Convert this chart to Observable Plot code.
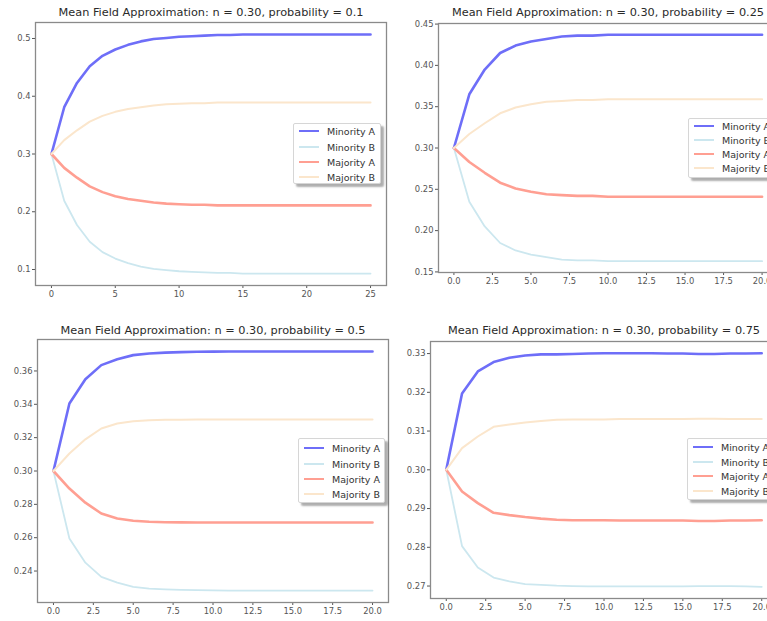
<!DOCTYPE html>
<html><head><meta charset="utf-8">
<script src="https://cdn.jsdelivr.net/npm/d3@7"></script>
<script src="https://cdn.jsdelivr.net/npm/@observablehq/plot@0.6"></script>
<style>
body{margin:0;background:#fff;}
#root{position:relative;width:767px;height:621px;overflow:hidden;font-family:"DejaVu Sans",sans-serif;background:#fff;}
.panel{position:absolute;}
.panel svg{max-width:none !important;}
.legend{position:absolute;background:#fff;border:1px solid #d6d6d6;border-radius:2px;box-shadow:3px 3px 2px rgba(0,0,0,0.32);font-size:9.5px;color:#333;white-space:nowrap;box-sizing:border-box;}
.legend .row{position:absolute;left:0;display:flex;align-items:center;}
.legend .sw{display:inline-block;width:20px;margin-left:5px;margin-right:8px;}
</style>
</head><body>
<div id="root"></div>
<script>
// ---- data ----
const seriesNames = ["Minority A", "Minority B", "Majority A", "Majority B"];
const seriesColors = ["#6e6ef8", "#cce7ef", "#ff9f92", "#fbe6cc"];
const seriesWidths = [2.6, 1.8, 2.6, 2.0];

const titles = [
  "Mean Field Approximation: n = 0.30, probability = 0.1",
  "Mean Field Approximation: n = 0.30, probability = 0.25",
  "Mean Field Approximation: n = 0.30, probability = 0.5",
  "Mean Field Approximation: n = 0.30, probability = 0.75"
];

const steps25 = [0,1,2,3,4,5,6,7,8,9,10,11,12,13,14,15,16,17,18,19,20,21,22,23,24,25];
const steps20 = [0,1,2,3,4,5,6,7,8,9,10,11,12,13,14,15,16,17,18,19,20];

const xTicks25 = [0,5,10,15,20,25];
const xTicks20 = [0,2.5,5,7.5,10,12.5,15,17.5,20];
const yTicks1 = [0.1,0.2,0.3,0.4,0.5];
const yTicks2 = [0.15,0.20,0.25,0.30,0.35,0.40,0.45];
const yTicks3 = [0.24,0.26,0.28,0.30,0.32,0.34,0.36];
const yTicks4 = [0.27,0.28,0.29,0.30,0.31,0.32,0.33];

// p = 0.1
const minA1 = [0.300,0.381,0.423,0.452,0.470,0.481,0.489,0.495,0.499,0.501,0.503,0.504,0.505,0.506,0.506,0.507,0.507,0.507,0.507,0.507,0.507,0.507,0.507,0.507,0.507,0.507];
const minB1 = [0.300,0.219,0.177,0.148,0.130,0.119,0.111,0.105,0.101,0.099,0.097,0.096,0.095,0.094,0.094,0.093,0.093,0.093,0.093,0.093,0.093,0.093,0.093,0.093,0.093,0.093];
const majA1 = [0.300,0.276,0.259,0.244,0.234,0.227,0.222,0.219,0.216,0.214,0.213,0.212,0.212,0.211,0.211,0.211,0.211,0.211,0.211,0.211,0.211,0.211,0.211,0.211,0.211,0.211];
const majB1 = [0.300,0.324,0.341,0.356,0.366,0.373,0.378,0.381,0.384,0.386,0.387,0.388,0.388,0.389,0.389,0.389,0.389,0.389,0.389,0.389,0.389,0.389,0.389,0.389,0.389,0.389];

// p = 0.25
const minA2 = [0.300,0.365,0.395,0.415,0.424,0.429,0.432,0.435,0.436,0.436,0.437,0.437,0.437,0.437,0.437,0.437,0.437,0.437,0.437,0.437,0.437];
const minB2 = [0.300,0.235,0.205,0.185,0.176,0.171,0.168,0.165,0.164,0.164,0.163,0.163,0.163,0.163,0.163,0.163,0.163,0.163,0.163,0.163,0.163];
const majA2 = [0.300,0.283,0.270,0.258,0.251,0.247,0.244,0.243,0.242,0.242,0.241,0.241,0.241,0.241,0.241,0.241,0.241,0.241,0.241,0.241,0.241];
const majB2 = [0.300,0.317,0.330,0.342,0.349,0.353,0.356,0.357,0.358,0.358,0.359,0.359,0.359,0.359,0.359,0.359,0.359,0.359,0.359,0.359,0.359];

// p = 0.5
const minA3 = [0.300,0.3405,0.3550,0.3635,0.3670,0.3695,0.3705,0.3710,0.3713,0.3715,0.3716,0.3717,0.3717,0.3717,0.3717,0.3717,0.3717,0.3717,0.3717,0.3717,0.3717];
const minB3 = [0.300,0.2595,0.2450,0.2365,0.2330,0.2305,0.2295,0.2290,0.2287,0.2285,0.2284,0.2283,0.2283,0.2283,0.2283,0.2283,0.2283,0.2283,0.2283,0.2283,0.2283];
const majA3 = [0.300,0.2895,0.2810,0.2745,0.2715,0.2702,0.2696,0.2693,0.2692,0.2691,0.2691,0.2691,0.2691,0.2691,0.2691,0.2691,0.2691,0.2691,0.2691,0.2691,0.2691];
const majB3 = [0.300,0.3105,0.3190,0.3255,0.3285,0.3298,0.3304,0.3307,0.3308,0.3309,0.3309,0.3309,0.3309,0.3309,0.3309,0.3309,0.3309,0.3309,0.3309,0.3309,0.3309];

// p = 0.75
const minA4 = [0.300,0.3197,0.3254,0.3278,0.3289,0.3295,0.3298,0.3298,0.3299,0.3300,0.3301,0.3301,0.3301,0.3301,0.3300,0.3300,0.3299,0.3299,0.3300,0.3300,0.3301];
const minB4 = [0.300,0.2803,0.2748,0.2722,0.2712,0.2705,0.2703,0.2701,0.2700,0.2699,0.2699,0.2699,0.2699,0.2699,0.2699,0.2699,0.2700,0.2700,0.2700,0.2699,0.2698];
const majA4 = [0.300,0.2944,0.2914,0.2889,0.2883,0.2878,0.2874,0.2871,0.2870,0.2870,0.2870,0.2869,0.2869,0.2869,0.2869,0.2869,0.2868,0.2868,0.2869,0.2869,0.2870];
const majB4 = [0.300,0.3056,0.3086,0.3111,0.3117,0.3122,0.3126,0.3129,0.3130,0.3130,0.3130,0.3131,0.3131,0.3131,0.3131,0.3131,0.3132,0.3132,0.3131,0.3131,0.3131];

// ---- layout ----
const panels = [
  {title: titles[0], steps: steps25, xTicks: xTicks25, xFmt: d3.format("d"), yTicks: yTicks1, yFmt: d3.format(".1f"),
   values: [minA1, minB1, majA1, majB1], left: 0, top: 0, width: 390, height: 310, mL: 35, mR: 4, mT: 22, mB: 25, titleDy: -10,
   legend: {left: 293, top: 123, width: 88, height: 61, rows: [7, 23, 38, 53]}},
  {title: titles[1], steps: steps20, xTicks: xTicks20, xFmt: d3.format(".1f"), yTicks: yTicks2, yFmt: d3.format(".2f"),
   values: [minA2, minB2, majA2, majB2], left: 385, top: 0, width: 400, height: 310, mL: 53, mR: 8, mT: 23, mB: 38, titleDy: -11,
   legend: {left: 688, top: 118, width: 90, height: 60, rows: [7, 21, 35, 49]}},
  {title: titles[2], steps: steps20, xTicks: xTicks20, xFmt: d3.format(".1f"), yTicks: yTicks3, yFmt: d3.format(".2f"),
   values: [minA3, minB3, majA3, majB3], left: 0, top: 310, width: 392, height: 311, mL: 37, mR: 4, mT: 29, mB: 19, titleDy: -9,
   legend: {left: 298, top: 438, width: 87, height: 65, rows: [9, 25, 40, 55]}},
  {title: titles[3], steps: steps20, xTicks: xTicks20, xFmt: d3.format(".1f"), yTicks: yTicks4, yFmt: d3.format(".2f"),
   values: [minA4, minB4, majA4, majB4], left: 385, top: 310, width: 400, height: 311, mL: 45, mR: 8, mT: 31, mB: 23, titleDy: -11,
   legend: {left: 687, top: 438, width: 90, height: 62, rows: [8, 23, 37, 52]}}
];

const root = document.getElementById("root");

for (const p of panels) {
  const all = p.values.flat();
  const [ymin, ymax] = d3.extent(all);
  const yPad = (ymax - ymin) * 0.05;
  const [xmin, xmax] = d3.extent(p.steps);
  const xPad = (xmax - xmin) * 0.05;

  const marks = [];
  p.values.forEach((vals, i) => {
    const rows = vals.map((v, j) => ({t: p.steps[j], v}));
    marks.push(Plot.line(rows, {x: "t", y: "v", stroke: seriesColors[i], strokeWidth: seriesWidths[i], strokeLinejoin: "round"}));
  });
  marks.push(Plot.frame({stroke: "#8a8a8a", strokeWidth: 1.3}));
  marks.push(Plot.text([p.title], {frameAnchor: "top", lineAnchor: "middle", dy: p.titleDy, fontSize: 11.3, fill: "#2a2a2a"}));

  const chart = Plot.plot({
    width: p.width, height: p.height,
    marginLeft: p.mL, marginRight: p.mR, marginTop: p.mT, marginBottom: p.mB,
    style: {fontFamily: "DejaVu Sans", fontSize: "8.4px", color: "#555", background: "transparent", overflow: "visible", maxWidth: "none"},
    x: {domain: [xmin - xPad, xmax + xPad], ticks: p.xTicks, tickFormat: p.xFmt, tickSize: 3, tickPadding: 3, label: null},
    y: {domain: [ymin - yPad, ymax + yPad], ticks: p.yTicks, tickFormat: p.yFmt, tickSize: 3, tickPadding: 2, label: null},
    marks
  });
  const wrap = document.createElement("div");
  wrap.className = "panel";
  wrap.style.left = p.left + "px";
  wrap.style.top = p.top + "px";
  wrap.style.width = p.width + "px";
  wrap.style.height = p.height + "px";
  wrap.appendChild(chart);
  root.appendChild(wrap);

  // legend
  const lg = document.createElement("div");
  lg.className = "legend";
  lg.style.left = p.legend.left + "px";
  lg.style.top = p.legend.top + "px";
  lg.style.width = p.legend.width + "px";
  lg.style.height = p.legend.height + "px";
  seriesNames.forEach((name, i) => {
    const row = document.createElement("div");
    row.className = "row";
    row.style.top = (p.legend.rows[i] - 6) + "px";
    row.style.height = "12px";
    const sw = document.createElement("span");
    sw.className = "sw";
    sw.style.height = seriesWidths[i] + "px";
    sw.style.background = seriesColors[i];
    const tx = document.createElement("span");
    tx.textContent = name;
    row.appendChild(sw);
    row.appendChild(tx);
    lg.appendChild(row);
  });
  root.appendChild(lg);
}
</script>
</body></html>
